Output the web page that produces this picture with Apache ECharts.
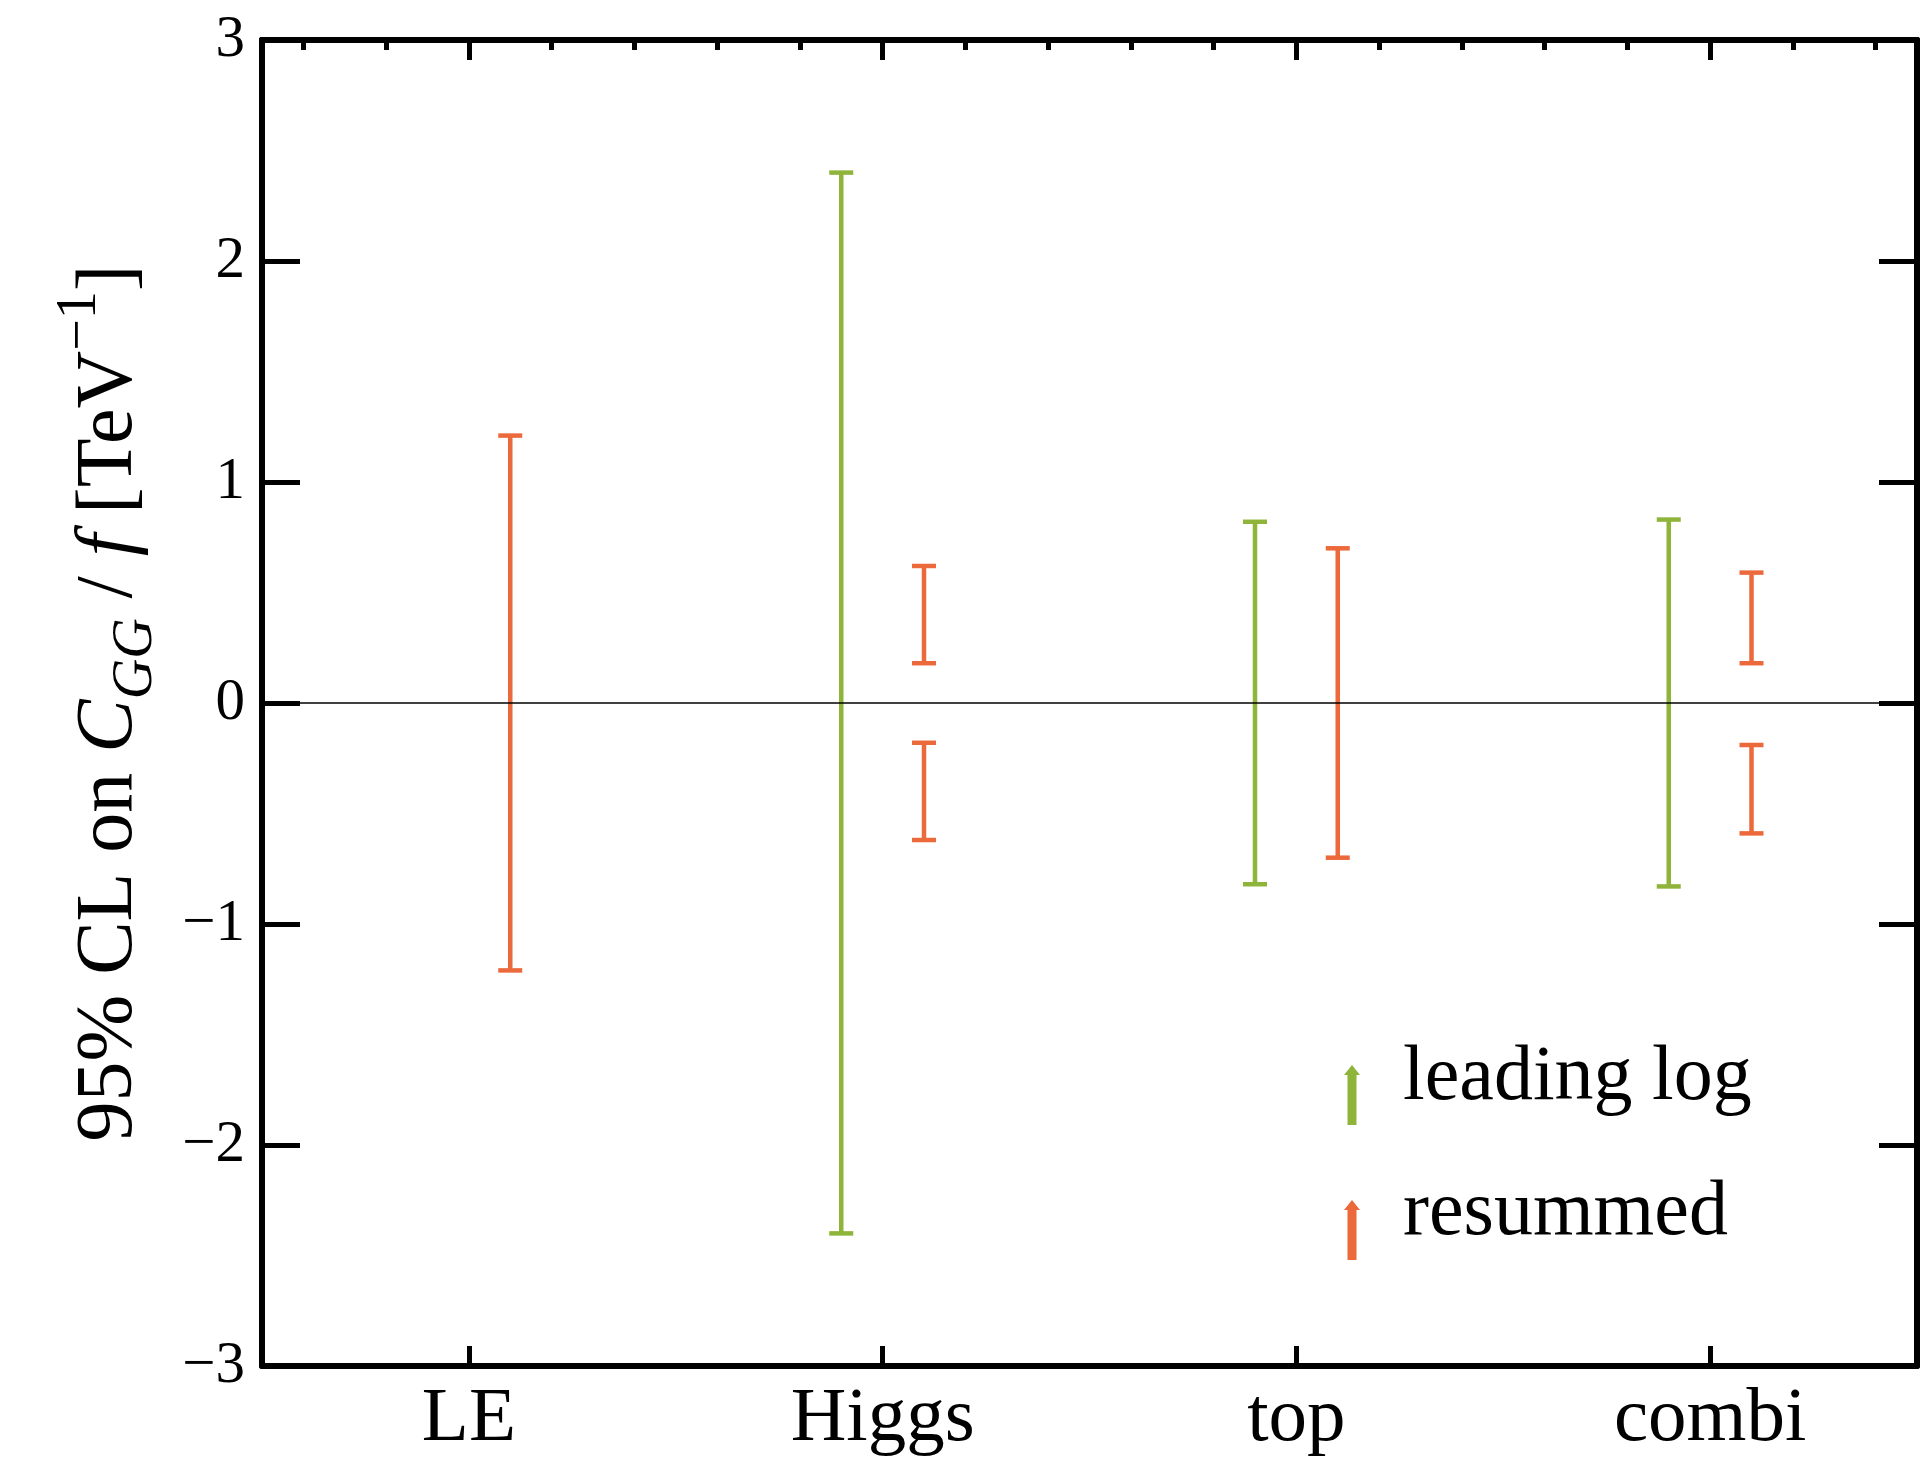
<!DOCTYPE html>
<html>
<head>
<meta charset="utf-8">
<title>95% CL on C_GG / f</title>
<script src="https://cdn.jsdelivr.net/npm/echarts@6/dist/echarts.min.js"></script>
<style>
  html, body { margin: 0; padding: 0; background: #fff; }
  #main { width: 1922px; height: 1464px; }
</style>
</head>
<body>
<div id="main"></div>
<script>
var categories = ['LE', 'Higgs', 'top', 'combi'];
var categoryTicks = [1, 2, 3, 4];
var topMinorTicks = [0.6, 0.8, 1.2, 1.4, 1.6, 1.8, 2.2, 2.4, 2.6, 2.8, 3.2, 3.4, 3.6, 3.8, 4.2, 4.4];
var yTicks = [-3, -2, -1, 0, 1, 2, 3];

// [category number, lower limit, upper limit]
var leadingLog = [[2, -2.40, 2.40], [3, -0.82, 0.82], [4, -0.83, 0.83]];
var resummed = [
  [1, -1.21, 1.21],
  [2, 0.18, 0.62], [2, -0.62, -0.18],
  [3, -0.70, 0.70],
  [4, 0.18, 0.59], [4, -0.59, -0.19]
];

var FONT = "'Liberation Serif', 'Times New Roman', 'DejaVu Serif', serif";
var GREEN = '#8fb43a';
var ORANGE = '#ec693b';
var AXIS_W = 6;

var chart = echarts.init(document.getElementById('main'));

// draws one vertical error bar with caps, shifted left/right of the category
function errorBar(offset) {
  return function (params, api) {
    var x = api.value(0) + offset;
    var lo = api.coord([x, api.value(1)]);
    var hi = api.coord([x, api.value(2)]);
    var half = 12;
    var style = { stroke: api.visual('color'), lineWidth: 4.5 };
    return {
      type: 'group',
      children: [
        { type: 'line', shape: { x1: lo[0], y1: lo[1], x2: hi[0], y2: hi[1] }, style: style },
        { type: 'line', shape: { x1: lo[0] - half, y1: lo[1], x2: lo[0] + half, y2: lo[1] }, style: style },
        { type: 'line', shape: { x1: hi[0] - half, y1: hi[1], x2: hi[0] + half, y2: hi[1] }, style: style }
      ]
    };
  };
}

function minus(v) {
  return v < 0 ? '\u2212' + Math.abs(v) : String(v);
}

var axisLine = { show: true, onZero: false, lineStyle: { color: '#000', width: AXIS_W } };

var option = {
  backgroundColor: '#fff',
  animation: false,
  color: [GREEN, ORANGE],
  grid: { left: 262, right: 5, top: 40, bottom: 98 },
  legend: {
    orient: 'vertical',
    left: 1339,
    top: 1035,
    itemWidth: 16,
    itemHeight: 60,
    itemGap: 25,
    selectedMode: false,
    icon: 'path://M8,0 L16,10 L12.5,10 L12.5,60 L3.5,60 L3.5,10 L0,10 Z',
    itemStyle: { borderWidth: 0 },
    data: ['leading log', 'resummed'],
    formatter: function (name) { return '{t|' + name + '}'; },
    textStyle: {
      rich: {
        t: { fontFamily: FONT, fontSize: 78, lineHeight: 78, color: '#000', padding: [0, 0, 32, 38] }
      }
    }
  },
  xAxis: [
    {
      type: 'value',
      position: 'bottom',
      min: 0.5,
      max: 4.5,
      axisLine: axisLine,
      splitLine: { show: false },
      axisTick: { show: true, inside: true, length: 20, customValues: categoryTicks, lineStyle: { color: '#000', width: 5 } },
      axisLabel: {
        show: true,
        customValues: categoryTicks,
        margin: 15,
        fontFamily: FONT,
        fontSize: 77,
        color: '#000',
        formatter: function (v) { return categories[Math.round(v) - 1]; }
      }
    },
    {
      type: 'value',
      position: 'top',
      min: 0.5,
      max: 4.5,
      axisLine: axisLine,
      splitLine: { show: false },
      axisTick: { show: true, inside: true, length: 20, customValues: categoryTicks, lineStyle: { color: '#000', width: 5 } },
      axisLabel: { show: false }
    },
    {
      type: 'value',
      position: 'top',
      offset: 0,
      min: 0.5,
      max: 4.5,
      axisLine: axisLine,
      splitLine: { show: false },
      axisTick: { show: true, inside: true, length: 10, customValues: topMinorTicks, lineStyle: { color: '#000', width: 5 } },
      axisLabel: { show: false }
    }
  ],
  yAxis: [
    {
      type: 'value',
      position: 'left',
      min: -3,
      max: 3,
      interval: 1,
      axisLine: axisLine,
      splitLine: { show: false },
      axisTick: { show: true, inside: true, length: 38, customValues: yTicks, lineStyle: { color: '#000', width: 5 } },
      axisLabel: {
        margin: 17,
        customValues: yTicks,
        fontFamily: FONT,
        fontSize: 59,
        color: '#000',
        formatter: minus
      },
      name: '{n|95% CL on }{i|C}{sub|GG}{n| / }{i|f}{n| [TeV}{sup|\u22121}{n|]}',
      nameLocation: 'middle',
      nameRotate: 90,
      nameGap: 112,
      nameTextStyle: {
        color: '#000',
        fontFamily: FONT,
        rich: {
          n: { fontFamily: FONT, fontSize: 80, lineHeight: 80, color: '#000' },
          i: { fontFamily: FONT, fontSize: 80, lineHeight: 80, fontStyle: 'italic', color: '#000' },
          sub: { fontFamily: FONT, fontSize: 56, lineHeight: 56, fontStyle: 'italic', color: '#000', padding: [52, 0, 0, 0] },
          sup: { fontFamily: FONT, fontSize: 56, lineHeight: 56, color: '#000', padding: [0, 0, 60, 0] }
        }
      }
    },
    {
      type: 'value',
      position: 'right',
      min: -3,
      max: 3,
      interval: 1,
      axisLine: axisLine,
      splitLine: { show: false },
      axisTick: { show: true, inside: true, length: 38, customValues: yTicks, lineStyle: { color: '#000', width: 5 } },
      axisLabel: { show: false }
    }
  ],
  series: [
    {
      name: 'leading log',
      type: 'custom',
      xAxisIndex: 0,
      yAxisIndex: 0,
      itemStyle: { color: GREEN },
      renderItem: errorBar(-0.1),
      encode: { x: 0, y: [1, 2] },
      data: leadingLog,
      markLine: {
        silent: true,
        symbol: 'none',
        label: { show: false },
        lineStyle: { color: '#000', width: 1.5, type: 'solid' },
        data: [{ yAxis: 0 }]
      },
      z: 3
    },
    {
      name: 'resummed',
      type: 'custom',
      xAxisIndex: 0,
      yAxisIndex: 0,
      itemStyle: { color: ORANGE },
      renderItem: errorBar(0.1),
      encode: { x: 0, y: [1, 2] },
      data: resummed,
      z: 3
    }
  ]
};

chart.setOption(option);
</script>
</body>
</html>
